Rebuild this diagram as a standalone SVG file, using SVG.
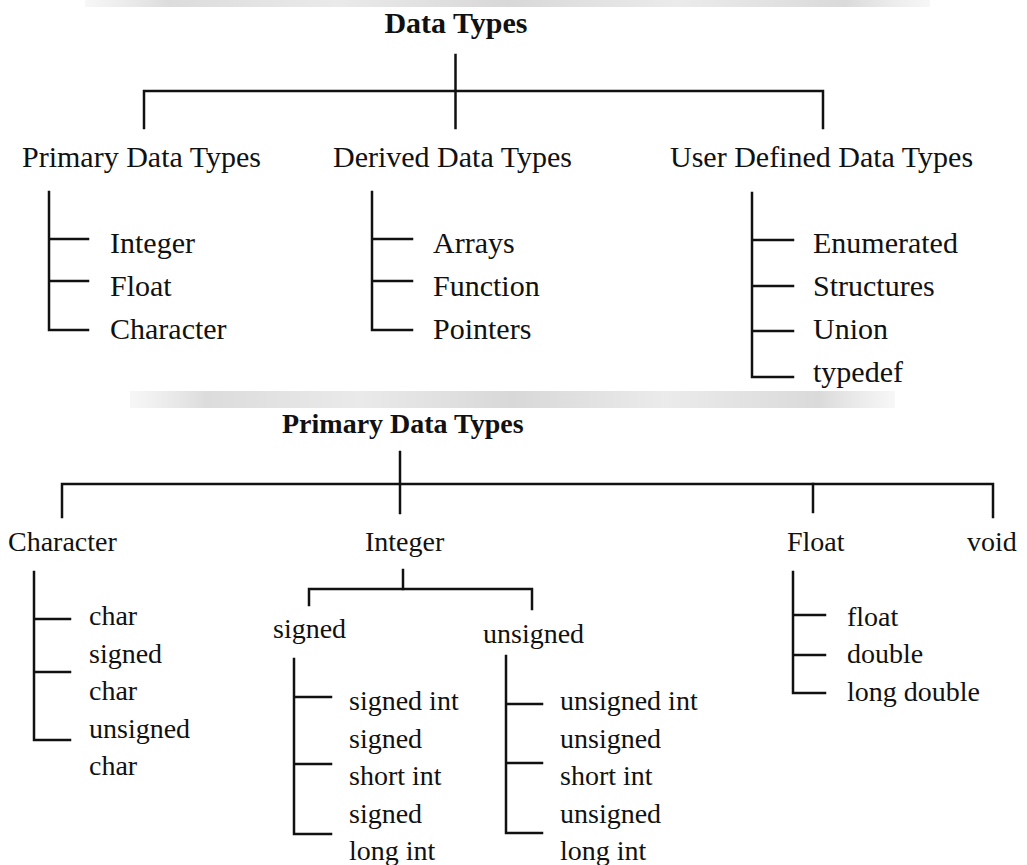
<svg xmlns="http://www.w3.org/2000/svg" width="1027" height="865" viewBox="0 0 1027 865">
<style>
text{font-family:"Liberation Serif","Times New Roman",serif;fill:#111;}
.t30{font-size:30px;}
.t28{font-size:28px;}
.b{font-weight:bold;}
.ln{fill:none;stroke:#111;stroke-width:2.5;stroke-linecap:square;}
</style>
<defs>
<linearGradient id="wm" x1="0" y1="0" x2="1" y2="0">
<stop offset="0" stop-color="#e4e4e4" stop-opacity="0.3"/>
<stop offset="0.1" stop-color="#dcdcdc"/>
<stop offset="0.3" stop-color="#eaeaea"/>
<stop offset="0.5" stop-color="#d8d8d8"/>
<stop offset="0.7" stop-color="#ebebeb"/>
<stop offset="0.9" stop-color="#dadada"/>
<stop offset="1" stop-color="#e4e4e4" stop-opacity="0.3"/>
</linearGradient>
</defs>
<rect width="1027" height="865" fill="#fff"/>
<g id="watermark">
<rect x="85" y="0" width="845" height="7" fill="url(#wm)"/>
<rect x="130" y="391" width="765" height="17" fill="url(#wm)"/>
</g>
<g id="connectors">
<path class="ln" d="M455.5 55 V128"/>
<path class="ln" d="M144 128 V91 H823 V128"/>
<path class="ln" d="M49 192 V330 H88 M49 239 H88 M49 281 H88"/>
<path class="ln" d="M372 192 V330 H412 M372 239 H412 M372 281 H412"/>
<path class="ln" d="M752 193 V377 H793 M752 240 H793 M752 286 H793 M752 331 H793"/>
<path class="ln" d="M400 452 V513"/>
<path class="ln" d="M62 517 V484 H993 V517"/>
<path class="ln" d="M813 484 V512"/>
<path class="ln" d="M34 572 V740 H70 M34 619 H70 M34 672 H70"/>
<path class="ln" d="M403 570 V589"/>
<path class="ln" d="M309 605 V589 H532 V609"/>
<path class="ln" d="M294 659 V834 H331 M294 697 H331 M294 764 H331"/>
<path class="ln" d="M506 656 V833 H542 M506 704 H542 M506 763 H542"/>
<path class="ln" d="M793 572 V693 H825 M793 615 H825 M793 655 H825"/>
</g>
<g id="data-types"><text class="t30 b" x="456" y="33" text-anchor="middle">Data Types</text></g>
<g id="primary-data-types"><text class="t30" x="22" y="167">Primary Data Types</text></g>
<g id="derived-data-types"><text class="t30" x="333" y="167">Derived Data Types</text></g>
<g id="user-defined-data-types"><text class="t30" x="670" y="167">User Defined Data Types</text></g>
<g id="primary-items">
<text class="t30" x="110" y="253">Integer</text>
<text class="t30" x="110" y="296">Float</text>
<text class="t30" x="110" y="339">Character</text>
</g>
<g id="derived-items">
<text class="t30" x="433" y="253">Arrays</text>
<text class="t30" x="433" y="296">Function</text>
<text class="t30" x="433" y="339">Pointers</text>
</g>
<g id="user-items">
<text class="t30" x="813" y="253">Enumerated</text>
<text class="t30" x="813" y="296">Structures</text>
<text class="t30" x="813" y="339">Union</text>
<text class="t30" x="813" y="382">typedef</text>
</g>
<g id="primary-title"><text class="t28 b" x="282" y="433">Primary Data Types</text></g>
<g id="character"><text class="t28" x="8" y="551">Character</text></g>
<g id="integer"><text class="t28" x="365" y="551">Integer</text></g>
<g id="float"><text class="t28" x="787" y="551">Float</text></g>
<g id="void"><text class="t28" x="967" y="551">void</text></g>
<g id="character-items">
<text class="t28" x="89" y="625">char</text>
<text class="t28" x="89" y="662.5">signed</text>
<text class="t28" x="89" y="700">char</text>
<text class="t28" x="89" y="737.5">unsigned</text>
<text class="t28" x="89" y="775">char</text>
</g>
<g id="signed"><text class="t28" x="273" y="638">signed</text></g>
<g id="unsigned"><text class="t28" x="483" y="643">unsigned</text></g>
<g id="signed-items">
<text class="t28" x="349" y="710">signed int</text>
<text class="t28" x="349" y="747.5">signed</text>
<text class="t28" x="349" y="785">short int</text>
<text class="t28" x="349" y="822.5">signed</text>
<text class="t28" x="349" y="860">long int</text>
</g>
<g id="unsigned-items">
<text class="t28" x="560" y="710">unsigned int</text>
<text class="t28" x="560" y="747.5">unsigned</text>
<text class="t28" x="560" y="785">short int</text>
<text class="t28" x="560" y="822.5">unsigned</text>
<text class="t28" x="560" y="860">long int</text>
</g>
<g id="float-items">
<text class="t28" x="847" y="626">float</text>
<text class="t28" x="847" y="663">double</text>
<text class="t28" x="847" y="701">long double</text>
</g>
</svg>
